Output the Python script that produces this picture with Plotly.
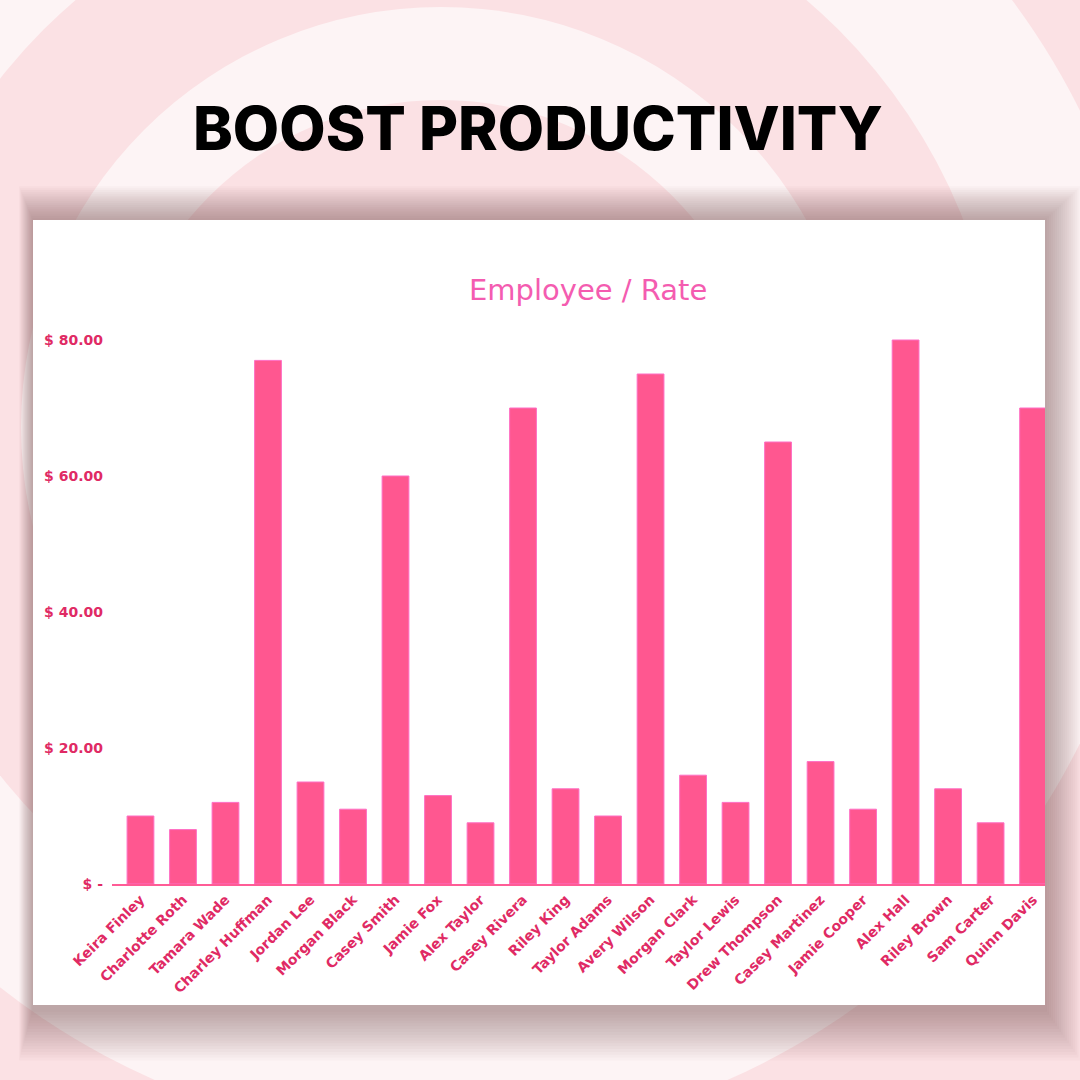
import plotly.graph_objects as go

# ---------------- data ----------------
employees = ["Keira Finley", "Charlotte Roth", "Tamara Wade", "Charley Huffman",
             "Jordan Lee", "Morgan Black", "Casey Smith", "Jamie Fox", "Alex Taylor",
             "Casey Rivera", "Riley King", "Taylor Adams", "Avery Wilson",
             "Morgan Clark", "Taylor Lewis", "Drew Thompson", "Casey Martinez",
             "Jamie Cooper", "Alex Hall", "Riley Brown", "Sam Carter", "Quinn Davis"]
rates = [10, 8, 12, 77, 15, 11, 60, 13, 9, 70, 14, 10, 75, 16, 12, 65, 18, 11, 80, 14, 9, 70]

y_tick_vals = [0, 20, 40, 60, 80]
y_tick_text = ["$ -", "$ 20.00", "$ 40.00", "$ 60.00", "$ 80.00"]

page_title = "BOOST PRODUCTIVITY"
chart_title = "Employee / Rate"

# ---------------- layout geometry (pixels) ----------------
SIZE = 1080
L, R, T, B = 112, 1045, 320, 884
W, H = R - L, B - T


def px(X):
    return (X - L) / W


def py(Y):
    return (B - Y) / H


PINK = "#fbe1e4"
LIGHT = "#fdf4f5"

shapes = []
# concentric background rings
cx, cy = 441, 427
for r, col in [(713, LIGHT), (562, PINK), (420, LIGHT), (327, PINK)]:
    shapes.append(dict(type="circle", xref="paper", yref="paper", layer="below",
                       x0=px(cx - r), x1=px(cx + r), y0=py(cy + r), y1=py(cy - r),
                       fillcolor=col, line=dict(width=0)))

# soft card shadow
cl, ct, cr, cb = 33, 220, 1045, 1005
N = 18
for k in range(N, 0, -1):
    e = 2.2 * k
    shapes.append(dict(type="rect", xref="paper", yref="paper", layer="below",
                       x0=px(cl - e * 0.35), x1=px(cr + e * 0.9),
                       y0=py(cb + e * 1.3 + 4), y1=py(ct - e * 0.85),
                       fillcolor="rgba(80,55,60,0.024)", line=dict(width=0)))
# white card
shapes.append(dict(type="rect", xref="paper", yref="paper", layer="below",
                   x0=px(cl), x1=px(cr), y0=py(cb), y1=py(ct),
                   fillcolor="#ffffff", line=dict(width=0)))

fig = go.Figure()
fig.add_trace(go.Bar(
    x=list(range(len(employees))), y=rates,
    marker=dict(color="#ff5790", line=dict(color="#ff6ec4", width=1)),
    hoverinfo="skip",
))

fig.update_layout(
    width=SIZE, height=SIZE,
    margin=dict(l=L, r=SIZE - R, t=T, b=SIZE - B, pad=0),
    paper_bgcolor=PINK,
    plot_bgcolor="rgba(0,0,0,0)",
    showlegend=False,
    bargap=0.37,
    shapes=shapes,
    annotations=[
        dict(text=page_title, xref="paper", yref="paper", x=px(538), y=py(128),
             xanchor="center", yanchor="middle", showarrow=False,
             font=dict(family="Inter", size=60, color="#000000", weight=800)),
        dict(text=chart_title, xref="paper", yref="paper", x=px(588), y=py(290),
             xanchor="center", yanchor="middle", showarrow=False,
             font=dict(family="DejaVu Sans", size=29, color="#f45cb0")),
    ],
)

fig.update_xaxes(
    tickmode="array", tickvals=list(range(len(employees))), ticktext=employees,
    range=[-0.67, 21.28], tickangle=-45,
    showline=True, linecolor="#ff5c96", linewidth=2,
    showgrid=False, zeroline=False, ticks="",
    tickfont=dict(family="DejaVu Sans", size=14, color="#e02a64", weight="bold"),
)
fig.update_yaxes(
    tickmode="array", tickvals=y_tick_vals, ticktext=y_tick_text,
    range=[0, H / 6.8], showgrid=False, zeroline=False, showline=False,
    ticks="", ticklabelstandoff=8,
    tickfont=dict(family="DejaVu Sans", size=14, color="#e02a64", weight="bold"),
)

fig.write_html("out.html")
